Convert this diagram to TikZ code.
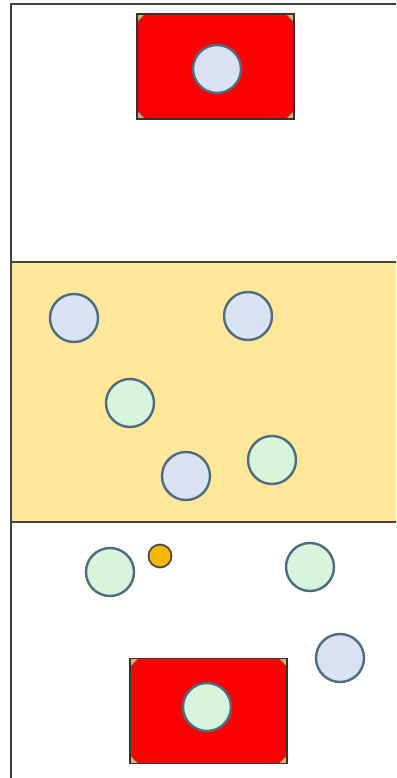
\documentclass[tikz,border=0pt]{standalone}
\usepackage{tikz}
\usetikzlibrary{positioning}

\definecolor{ballblue}{HTML}{DAE3F3}
\definecolor{ballgreen}{HTML}{D5F5DC}
\definecolor{ballline}{HTML}{4F6B7E}
\definecolor{zonefill}{HTML}{FFE699}
\definecolor{goalred}{HTML}{FF0000}
\definecolor{cornerfill}{HTML}{E8A66E}
\definecolor{puckfill}{HTML}{F5B800}

\begin{document}
\begin{tikzpicture}[
    x=1pt, y=-1pt,
    ball/.style={circle, draw=ballline, line width=2.4pt, minimum size=48pt, inner sep=0pt},
    blueball/.style={ball, fill=ballblue},
    greenball/.style={ball, fill=ballgreen},
    puck/.style={circle, draw=black!70, line width=1.8pt, fill=puckfill, minimum size=23pt, inner sep=0pt},
    goal/.style={fill=goalred, minimum width=157pt, minimum height=105pt, inner sep=0pt},
    edge/.style={draw=black!75, line width=2pt}
]
\useasboundingbox (0,0) rectangle (396,778);
\fill[white] (0,0) rectangle (396,778);

% middle zone
\fill[zonefill] (11,262) rectangle (396,522);
\draw[edge] (11,262) -- (396,262);
\draw[edge] (11,522) -- (396,522);
\draw[edge] (396,4) -- (11,4) -- (11,778);

% goals
\node[goal] (goaltop) at (215.5,66.5) {};
\node[goal] (goalbot) at (208.5,711) {};
\foreach \g in {goaltop,goalbot} {
  \fill[cornerfill] (\g.north west) -- ++(9,0) -- ++(-9,9) -- cycle;
  \fill[cornerfill] (\g.north east) -- ++(-9,0) -- ++(9,9) -- cycle;
  \fill[cornerfill] (\g.south west) -- ++(9,0) -- ++(-9,-9) -- cycle;
  \fill[cornerfill] (\g.south east) -- ++(-9,0) -- ++(9,-9) -- cycle;
  \draw[black!70, line width=0.5pt] ([xshift=9pt]\g.north west) -- ([yshift=-9pt]\g.north west)
    ([xshift=-9pt]\g.north east) -- ([yshift=-9pt]\g.north east)
    ([xshift=9pt]\g.south west) -- ([yshift=9pt]\g.south west)
    ([xshift=-9pt]\g.south east) -- ([yshift=9pt]\g.south east);
  \draw[black!80, line width=1.5pt] (\g.north west) rectangle (\g.south east);
}
\node[blueball] (keeptop) at (217,69) {};
\node[greenball] (keepbot) at (207,707) {};

% middle players
\node[blueball] (b1) at (74,318) {};
\node[blueball] (b2) at (248,316) {};
\node[greenball] (g1) at (130,403) {};
\node[blueball] (b3) at (186,476) {};
\node[greenball] (g2) at (272,460) {};

% lower players
\node[greenball] (g3) at (110,572) {};
\node[puck] (p) at (160,556) {};
\node[greenball] (g4) at (310,567) {};
\node[blueball] (b4) at (340,658) {};
\end{tikzpicture}
\end{document}
